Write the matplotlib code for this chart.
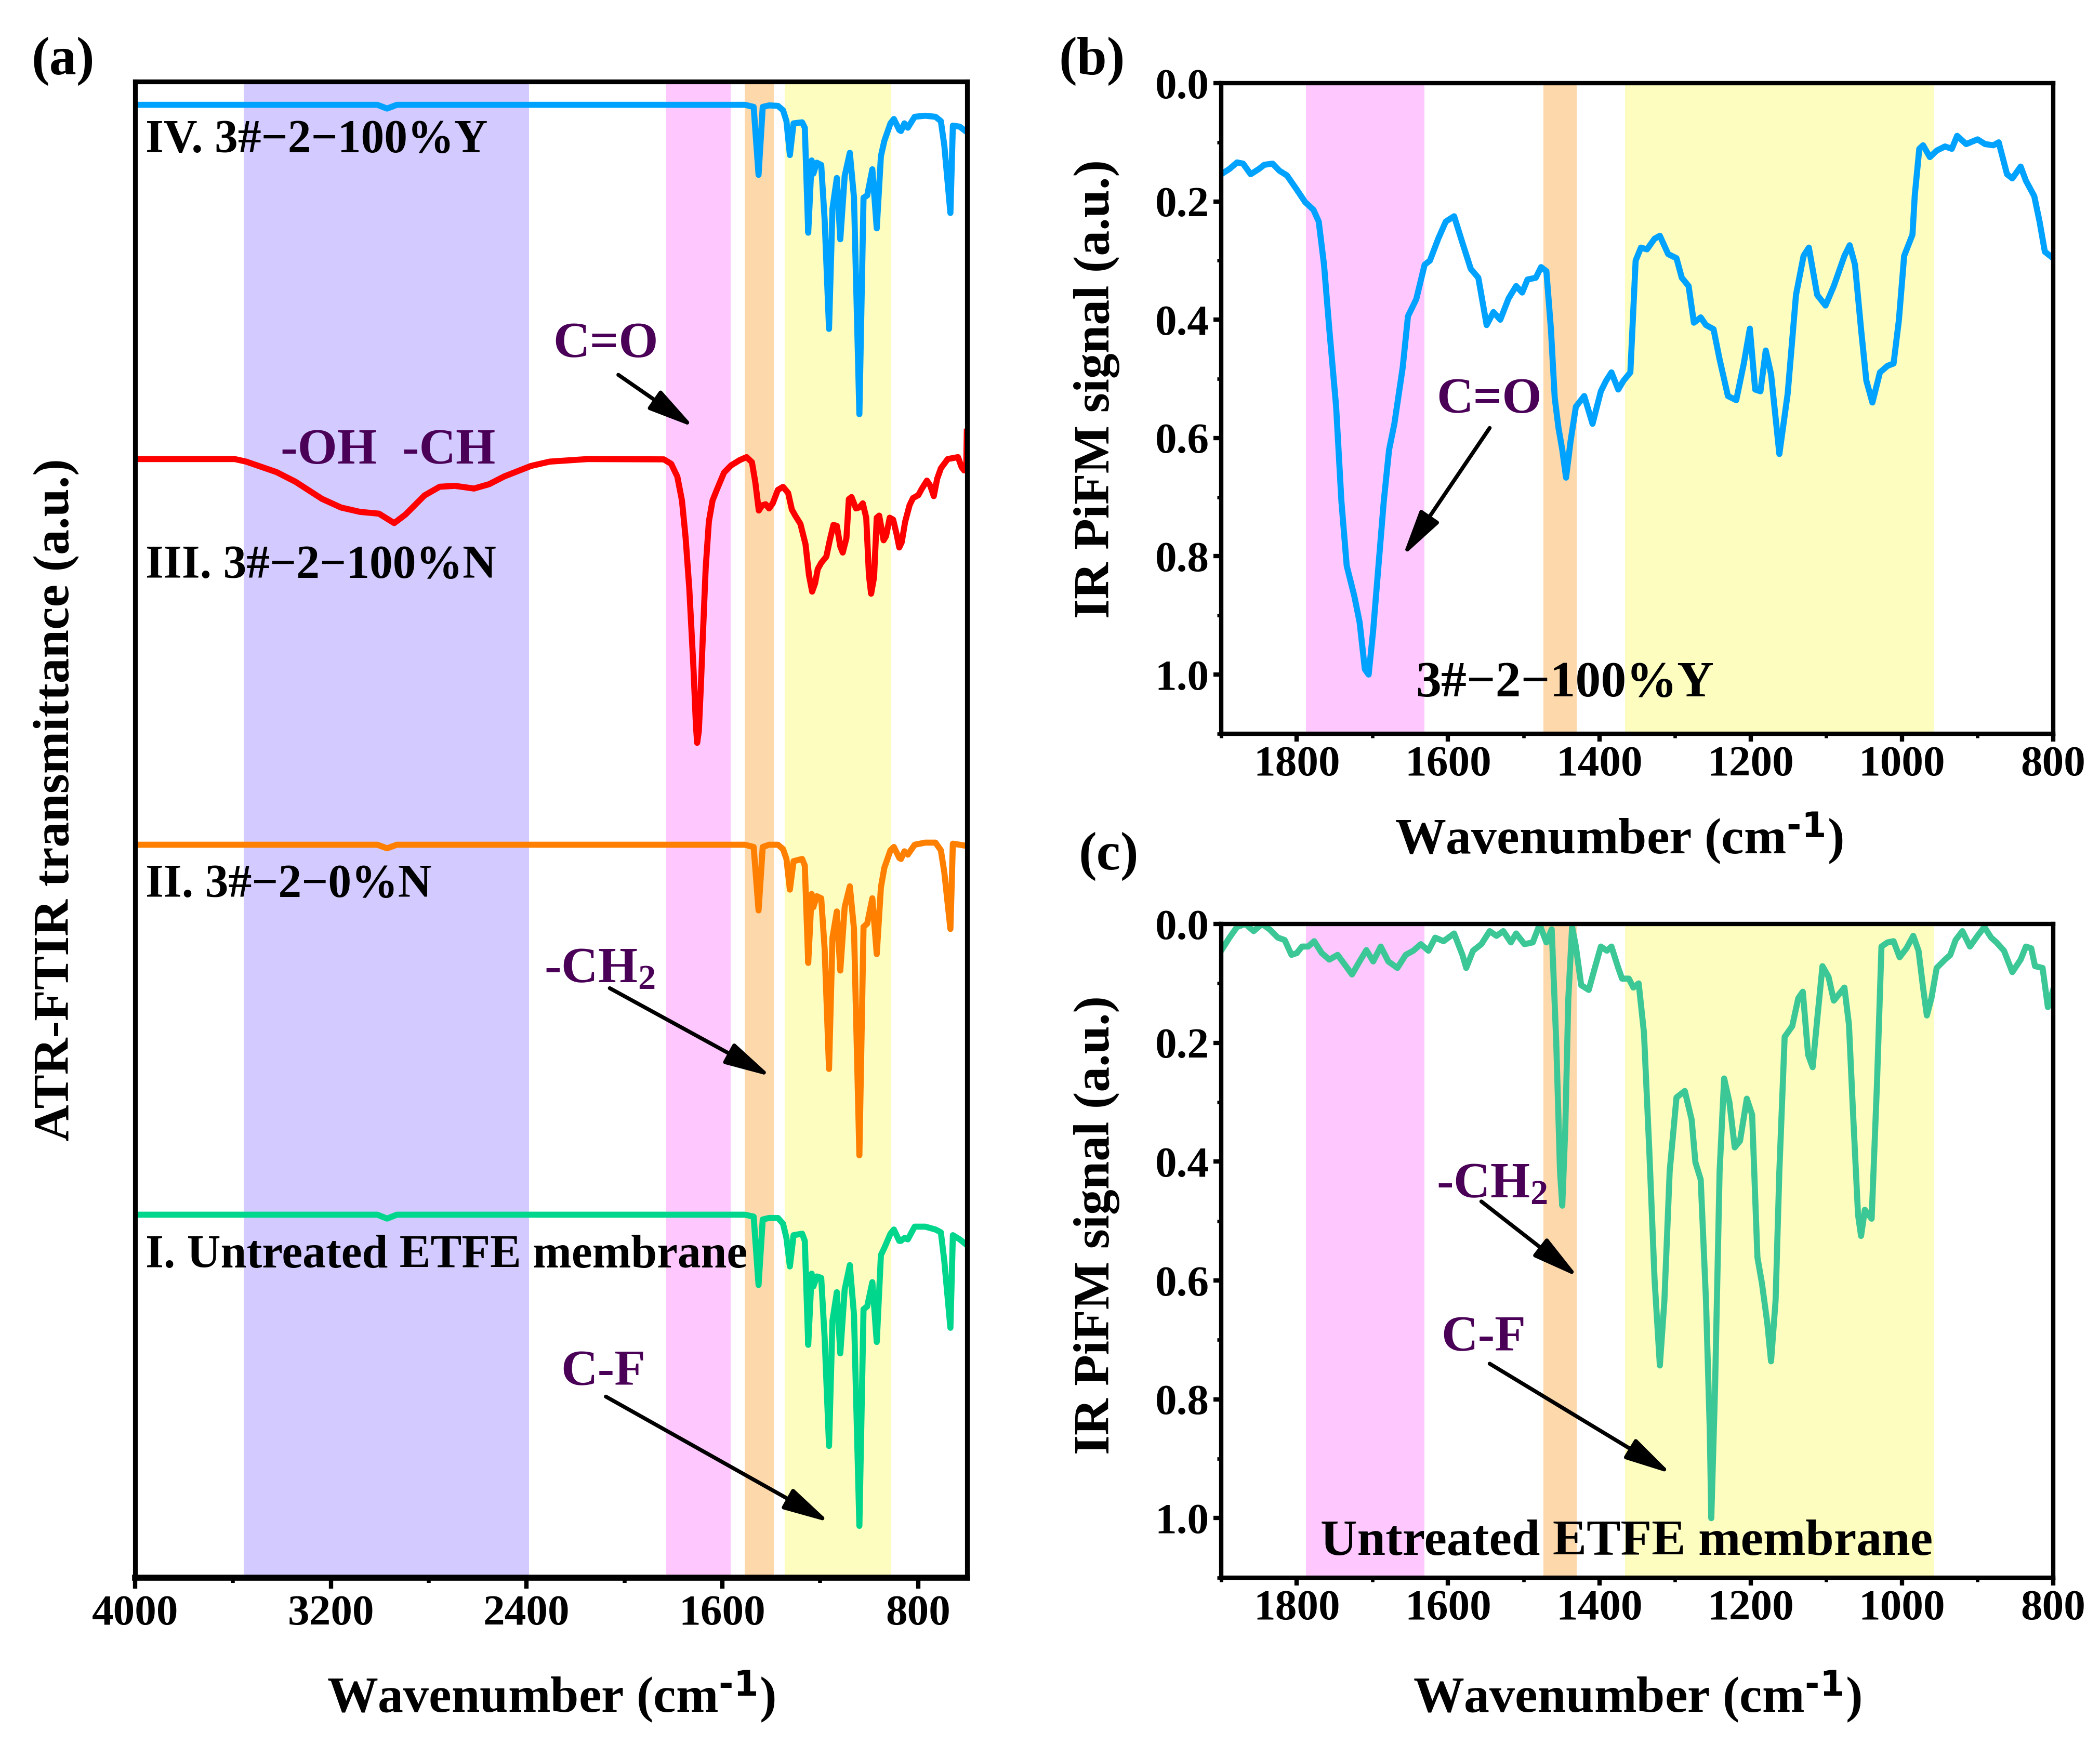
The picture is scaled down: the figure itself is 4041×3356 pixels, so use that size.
import numpy as np
import matplotlib.pyplot as plt
from matplotlib.ticker import MultipleLocator, FormatStrFormatter

plt.rcParams['font.family'] = ['Liberation Serif', 'DejaVu Serif']
plt.rcParams['font.weight'] = 'bold'
plt.rcParams['axes.labelweight'] = 'bold'
plt.rcParams['mathtext.default'] = 'regular'

# ---- panel (a): ATR-FTIR, stacked spectra (already offset, arbitrary units) ----
etfe_wn = [4000, 3010, 2970, 2930, 1621, 1508, 1472, 1452, 1435, 1409, 1373, 1352, 1338,
           1324, 1309, 1274, 1263, 1249, 1235, 1228, 1214, 1196, 1182, 1164, 1150, 1132,
           1118, 1100, 1079, 1062, 1040, 1023, 1008, 987, 969, 952, 938, 913, 899, 877,
           870, 856, 842, 814, 771, 729, 707, 693, 668, 658, 630, 601]
iv_y = [98.45, 98.45, 98.2, 98.45, 98.45, 98.45, 98.31, 93.77, 98.31, 98.41, 98.38, 98.09,
        97.36, 95.09, 97.21, 97.28, 96.92, 89.90, 94.73, 93.85, 94.58, 94.43, 90.78, 83.47,
        91.51, 93.56, 89.46, 93.70, 95.24, 92.24, 77.77, 92.24, 92.39, 94.14, 90.19, 95.02,
        96.04, 97.21, 97.50, 96.77, 96.70, 97.21, 96.92, 97.65, 97.72, 97.65, 97.36, 95.75,
        91.22, 97.06, 96.99, 96.63]
ii_y = [48.99, 48.99, 48.75, 48.99, 48.99, 48.99, 48.84, 44.60, 48.84, 48.99, 48.99, 48.70,
        48.04, 45.99, 47.89, 48.04, 47.60, 41.09, 45.70, 44.82, 45.55, 45.41, 42.04, 34.00,
        42.77, 44.53, 40.58, 44.82, 46.21, 43.36, 28.23, 43.50, 43.72, 45.41, 41.68, 46.14,
        47.45, 48.62, 48.84, 48.11, 48.04, 48.55, 48.33, 48.99, 49.13, 49.13, 48.62, 47.16,
        43.36, 49.06, 48.99, 48.91]
i_y = [24.26, 24.26, 24.0, 24.26, 24.26, 24.26, 24.13, 19.56, 23.94, 24.04, 24.04, 23.66,
       22.70, 20.80, 22.89, 22.99, 22.51, 15.56, 20.32, 19.46, 20.13, 20.04, 16.04, 8.80,
       17.18, 19.08, 14.99, 19.27, 20.89, 17.56, 3.46, 17.94, 18.13, 19.75, 15.75, 21.56,
       22.04, 22.99, 23.27, 22.51, 22.51, 22.70, 22.61, 23.46, 23.46, 23.27, 23.08, 21.18,
       16.70, 22.89, 22.61, 22.23]
iii_wn = [4000, 3593, 3546, 3422, 3345, 3236, 3158, 3081, 3003, 2941, 2895, 2817, 2755,
          2693, 2615, 2553, 2491, 2382, 2305, 2150, 1839, 1809, 1784, 1765, 1750, 1735,
          1718, 1708, 1703, 1696, 1688, 1680, 1668, 1655, 1640, 1621, 1593, 1564, 1529,
          1501, 1479, 1465, 1451, 1437, 1423, 1409, 1394, 1373, 1352, 1331, 1316, 1302,
          1281, 1260, 1246, 1233, 1221, 1210, 1196, 1175, 1161, 1146, 1132, 1118, 1108,
          1093, 1083, 1072, 1054, 1040, 1026, 1012, 1001, 992, 980, 969, 959, 941, 931,
          916, 902, 888, 877, 867, 853, 835, 821, 799, 785, 764, 750, 736, 722, 707, 679,
          637, 622, 612, 603, 601]
iii_y = [74.77, 74.77, 74.60, 73.90, 73.26, 72.11, 71.53, 71.24, 71.12, 70.49, 71.06, 72.34,
         72.92, 72.98, 72.80, 73.09, 73.61, 74.31, 74.60, 74.77, 74.75, 74.45, 73.6, 72.0,
         69.5, 66.1, 60.8, 57.0, 55.8, 56.6, 59.5, 62.8, 67.5, 70.6, 72.0, 72.78, 73.87,
         74.35, 74.70, 74.90, 74.56, 73.19, 71.33, 71.68, 71.75, 71.47, 71.81, 72.71, 72.91,
         72.50, 71.40, 70.99, 70.44, 69.07, 67.01, 65.91, 66.46, 67.42, 67.83, 68.25, 69.34,
         70.37, 70.30, 68.93, 68.52, 69.48, 72.09, 72.23, 71.47, 71.54, 71.81, 70.85, 67.01,
         65.77, 66.87, 70.85, 70.99, 69.34, 69.62, 70.85, 70.72, 69.76, 68.86, 69.21, 70.58,
         71.68, 72.16, 72.36, 72.78, 73.33, 72.98, 72.29, 73.46, 74.15, 74.77, 74.90, 74.22,
         74.01, 74.5, 76.6]
a_labels = ['IV. 3#\u22122\u2212100%Y', 'III. 3#\u22122\u2212100%N',
            'II. 3#\u22122\u22120%N', 'I. Untreated ETFE membrane']
a_label_y = [96.05, 67.59, 46.28, 21.49]

# ---- panel (b): IR PiFM, 3#-2-100%Y ----
b_wn = [1900, 1889, 1879, 1871, 1861, 1850, 1843, 1832, 1823, 1813, 1800, 1789, 1778, 1771,
        1764, 1757, 1748, 1741, 1734, 1724, 1717, 1710, 1705, 1699, 1692, 1685, 1678, 1671,
        1660, 1653, 1642, 1631, 1624, 1613, 1603, 1592, 1581, 1570, 1560, 1549, 1540, 1531,
        1520, 1510, 1502, 1495, 1484, 1477, 1470, 1464, 1459, 1454, 1449, 1444, 1438, 1431,
        1420, 1409, 1398, 1391, 1384, 1375, 1368, 1359, 1352, 1345, 1337, 1327, 1320, 1309,
        1298, 1291, 1282, 1275, 1266, 1259, 1249, 1241, 1230, 1219, 1209, 1201, 1194, 1187,
        1180, 1173, 1162, 1151, 1140, 1130, 1123, 1112, 1101, 1090, 1076, 1069, 1062, 1054,
        1047, 1039, 1029, 1019, 1011, 1004, 997, 986, 983, 977, 972, 963, 954, 943, 934, 927,
        915, 900, 890, 879, 872, 861, 854, 843, 836, 825, 818, 811, 800]
b_sig = [0.154, 0.145, 0.134, 0.136, 0.154, 0.145, 0.138, 0.136, 0.148, 0.156, 0.180, 0.201,
         0.214, 0.234, 0.307, 0.416, 0.547, 0.707, 0.816, 0.867, 0.911, 0.991, 1.000, 0.925,
         0.816, 0.707, 0.620, 0.576, 0.481, 0.394, 0.365, 0.307, 0.300, 0.263, 0.234, 0.225,
         0.270, 0.314, 0.329, 0.409, 0.387, 0.400, 0.364, 0.343, 0.354, 0.332, 0.329, 0.311,
         0.318, 0.416, 0.532, 0.583, 0.620, 0.667, 0.605, 0.547, 0.529, 0.576, 0.521, 0.503,
         0.489, 0.518, 0.503, 0.489, 0.300, 0.278, 0.281, 0.263, 0.258, 0.289, 0.296, 0.329,
         0.343, 0.405, 0.396, 0.409, 0.416, 0.467, 0.529, 0.536, 0.474, 0.415, 0.518, 0.521,
         0.452, 0.492, 0.627, 0.525, 0.358, 0.292, 0.278, 0.358, 0.376, 0.343, 0.292, 0.274,
         0.307, 0.416, 0.503, 0.540, 0.489, 0.478, 0.474, 0.401, 0.292, 0.256, 0.190, 0.111,
         0.105, 0.125, 0.114, 0.107, 0.111, 0.089, 0.103, 0.095, 0.103, 0.105, 0.100, 0.154,
         0.161, 0.141, 0.165, 0.191, 0.234, 0.285, 0.296]

# ---- panel (c): IR PiFM, untreated ETFE ----
c_wn = [1900, 1889, 1879, 1868, 1857, 1846, 1836, 1825, 1816, 1807, 1800, 1793, 1785, 1777,
        1767, 1757, 1746, 1735, 1727, 1717, 1708, 1699, 1689, 1679, 1667, 1656, 1646, 1636,
        1626, 1617, 1606, 1592, 1581, 1576, 1567, 1556, 1545, 1536, 1527, 1517, 1510, 1499,
        1488, 1479, 1470, 1463, 1457, 1452, 1449, 1445, 1441, 1436, 1431, 1424, 1414, 1406,
        1398, 1390, 1384, 1375, 1370, 1361, 1355, 1348, 1341, 1334, 1327, 1320, 1314, 1307,
        1298, 1287, 1278, 1273, 1266, 1259, 1254, 1252, 1247, 1241, 1235, 1228, 1221, 1214,
        1205, 1198, 1191, 1185, 1178, 1173, 1167, 1162, 1155, 1145, 1137, 1131, 1124, 1118,
        1112, 1105, 1097, 1090, 1083, 1076, 1070, 1065, 1058, 1054, 1049, 1040, 1033, 1027,
        1019, 1011, 1003, 994, 985, 978, 972, 967, 961, 954, 943, 936, 929, 920, 910, 900,
        891, 882, 875, 865, 854, 843, 836, 829, 824, 814, 807, 800]
c_sig = [0.045, 0.023, 0.005, 0.0, 0.012, 0.0, 0.009, 0.023, 0.027, 0.052, 0.049, 0.038,
         0.038, 0.029, 0.049, 0.060, 0.052, 0.071, 0.085, 0.063, 0.044, 0.063, 0.038, 0.063,
         0.074, 0.052, 0.045, 0.034, 0.045, 0.023, 0.029, 0.016, 0.052, 0.074, 0.045, 0.034,
         0.012, 0.020, 0.012, 0.031, 0.016, 0.034, 0.031, 0.001, 0.031, 0.009, 0.198, 0.416,
         0.474, 0.343, 0.125, 0.005, 0.038, 0.103, 0.111, 0.074, 0.038, 0.045, 0.038, 0.074,
         0.092, 0.092, 0.107, 0.100, 0.183, 0.380, 0.598, 0.743, 0.634, 0.416, 0.292, 0.281,
         0.329, 0.401, 0.430, 0.634, 0.852, 1.000, 0.780, 0.416, 0.260, 0.300, 0.376, 0.365,
         0.294, 0.321, 0.561, 0.605, 0.671, 0.736, 0.634, 0.416, 0.190, 0.172, 0.125, 0.114,
         0.220, 0.241, 0.161, 0.071, 0.089, 0.129, 0.118, 0.107, 0.169, 0.307, 0.489, 0.525,
         0.481, 0.496, 0.271, 0.038, 0.031, 0.029, 0.056, 0.041, 0.020, 0.045, 0.107, 0.154,
         0.125, 0.074, 0.060, 0.052, 0.027, 0.012, 0.038, 0.020, 0.005, 0.023, 0.031, 0.045,
         0.081, 0.060, 0.038, 0.041, 0.071, 0.074, 0.140, 0.111]

# shaded bands (cm-1)
a_bands = [(3555, 2390, '#d3cbff'), (1830, 1565, '#fec8fe'),
           (1508, 1390, '#fdd8aa'), (1346, 910, '#fdfdbf')]
bc_bands = [(1788, 1631, '#fec8fe'), (1474, 1430, '#fdd8aa'), (1366, 958, '#fdfdbf')]

BLUE = '#00a2ff'
TXT = '#4a0057'
FS_TICK = 20
FS_LAB = 23.5
LW = 2.8
XLAB = 'Wavenumber (cm$^{\\text{-1}}$)'

fig = plt.figure(figsize=(4041 / 300, 3356 / 300), dpi=300)
axa = fig.add_axes([0.0643, 0.0954, 0.3962, 0.8578])
axb = fig.add_axes([0.5815, 0.5793, 0.3962, 0.3730])
axc = fig.add_axes([0.5815, 0.0954, 0.3962, 0.3748])

arrow = dict(arrowstyle='-|>,head_length=0.9,head_width=0.22', color='k', lw=1.8,
             mutation_scale=20, shrinkA=0, shrinkB=0)

# ---- (a) ----
for lo, hi, col in a_bands:
    axa.axvspan(hi, lo, color=col, lw=0, zorder=0)
axa.plot(etfe_wn, iv_y, color=BLUE, lw=LW)
axa.plot(iii_wn, iii_y, color='#ff0000', lw=LW)
axa.plot(etfe_wn, ii_y, color='#ff7f00', lw=LW)
axa.plot(etfe_wn, i_y, color='#00d68c', lw=LW)
for lab, yy in zip(a_labels, a_label_y):
    axa.text(3958, yy, lab, fontsize=21.5, ha='left', va='center')
axa.text(2076, 82.4, 'C=O', color=TXT, fontsize=FS_LAB, ha='center', va='center')
axa.annotate('', xy=(1716, 76.9), xytext=(2025, 80.4), arrowprops=arrow)
axa.text(2967, 75.3, '-OH  -CH', color=TXT, fontsize=FS_LAB, ha='center', va='center')
axa.text(2101, 40.6, '-CH$_2$', color=TXT, fontsize=FS_LAB, ha='center', va='center')
axa.annotate('', xy=(1401, 33.5), xytext=(2060, 39.4), arrowprops=arrow)
axa.text(2087, 13.7, 'C-F', color=TXT, fontsize=FS_LAB, ha='center', va='center')
axa.annotate('', xy=(1162, 3.7), xytext=(2076, 12.1), arrowprops=arrow)

axa.set_xlim(4000, 600)
axa.set_ylim(0, 100)
axa.set_yticks([])
axa.xaxis.set_major_locator(MultipleLocator(800))
axa.xaxis.set_minor_locator(MultipleLocator(400))
axa.tick_params(axis='x', which='major', direction='out', length=5, width=2,
                labelsize=FS_TICK, pad=3)
axa.tick_params(axis='x', which='minor', direction='out', length=2.5, width=1.8)
for s in axa.spines.values():
    s.set_linewidth(2.2)
axa.spines['bottom'].set_linewidth(2.8)
axa.set_xlabel(XLAB, fontsize=FS_LAB)
axa.xaxis.set_label_coords(0.5, -0.061)
axa.set_ylabel('ATR-FTIR transmittance (a.u.)', fontsize=FS_LAB)
axa.yaxis.set_label_coords(-0.067, 0.52)

# ---- (b), (c) ----
for ax, wn, sig, col in [(axb, b_wn, b_sig, BLUE), (axc, c_wn, c_sig, '#3cc896')]:
    for lo, hi, bcol in bc_bands:
        ax.axvspan(hi, lo, color=bcol, lw=0, zorder=0)
    ax.plot(wn, sig, color=col, lw=LW)
    ax.set_xlim(1900, 800)
    ax.set_ylim(1.1, 0)
    ax.xaxis.set_major_locator(MultipleLocator(200))
    ax.xaxis.set_minor_locator(MultipleLocator(100))
    ax.yaxis.set_major_locator(MultipleLocator(0.2))
    ax.yaxis.set_minor_locator(MultipleLocator(0.1))
    ax.yaxis.set_major_formatter(FormatStrFormatter('%.1f'))
    ax.tick_params(which='major', direction='out', length=3.5, width=2,
                   labelsize=FS_TICK, pad=2)
    ax.tick_params(which='minor', direction='out', length=2, width=1.6)
    for s in ax.spines.values():
        s.set_linewidth(2.0)
    ax.set_xlabel(XLAB, fontsize=FS_LAB)
    ax.set_ylabel('IR PiFM signal (a.u.)', fontsize=FS_LAB)

axb.xaxis.set_label_coords(0.478, -0.118)
axb.yaxis.set_label_coords(-0.122, 0.53)
axc.xaxis.set_label_coords(0.5, -0.14)
axc.yaxis.set_label_coords(-0.122, 0.539)

axb.text(1546, 0.536, 'C=O', color=TXT, fontsize=FS_LAB, ha='center', va='center')
axb.annotate('', xy=(1660, 0.80), xytext=(1545, 0.583), arrowprops=arrow)
axb.text(1446, 1.016, '3#\u22122\u2212100%Y', fontsize=FS_LAB, ha='center', va='center')

axc.text(1542, 0.44, '-CH$_2$', color=TXT, fontsize=FS_LAB, ha='center', va='center')
axc.annotate('', xy=(1428, 0.594), xytext=(1556, 0.467), arrowprops=arrow)
axc.text(1553, 0.698, 'C-F', color=TXT, fontsize=FS_LAB, ha='center', va='center')
axc.annotate('', xy=(1305, 0.925), xytext=(1545, 0.74), arrowprops=arrow)
axc.text(1364, 1.041, 'Untreated ETFE membrane', fontsize=FS_LAB, ha='center', va='center')

fig.text(0.030, 0.965, '(a)', fontsize=25, ha='center', va='center')
fig.text(0.520, 0.965, '(b)', fontsize=25, ha='center', va='center')
fig.text(0.528, 0.509, '(c)', fontsize=25, ha='center', va='center')

fig.savefig('out.png', dpi=300)
